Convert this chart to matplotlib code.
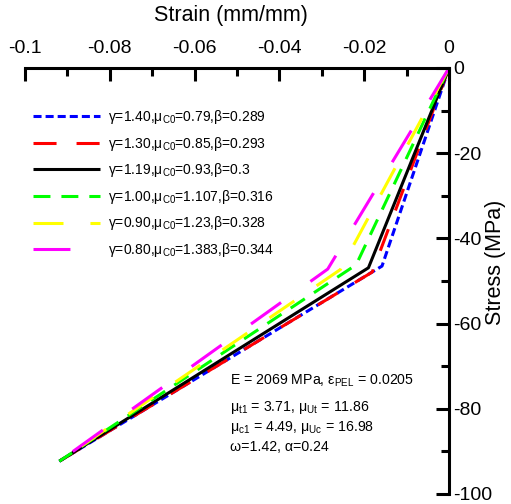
import matplotlib
matplotlib.use("Agg")
import matplotlib.pyplot as plt
from matplotlib.ticker import MultipleLocator, FuncFormatter

plt.rcParams['font.family'] = ['Liberation Sans', 'DejaVu Sans']
plt.rcParams['mathtext.fontset'] = 'custom'
plt.rcParams['mathtext.rm'] = 'Liberation Sans'
plt.rcParams['mathtext.it'] = 'Liberation Sans'
plt.rcParams['axes.unicode_minus'] = False
plt.rcParams['lines.scale_dashes'] = False

# Bilinear compressive stress-strain curves: origin, knee, ultimate point
labels = [
    "γ=1.40,μ$_{\\mathrm{C0}}$=0.79,β=0.289",
    "γ=1.30,μ$_{\\mathrm{C0}}$=0.85,β=0.293",
    "γ=1.19,μ$_{\\mathrm{C0}}$=0.93,β=0.3",
    "γ=1.00,μ$_{\\mathrm{C0}}$=1.107,β=0.316",
    "γ=0.90,μ$_{\\mathrm{C0}}$=1.23,β=0.328",
    "γ=0.80,μ$_{\\mathrm{C0}}$=1.383,β=0.344",
]
strain_g140 = [0.0, -0.0158, -0.0919]
stress_g140 = [0.0, -46.5, -92.3]
strain_g130 = [0.0, -0.0181, -0.0919]
stress_g130 = [0.0, -47.9, -92.3]
strain_g119 = [0.0, -0.0190, -0.0919]
stress_g119 = [0.0, -46.9, -92.3]
strain_g100 = [0.0, -0.0219, -0.0919]
stress_g100 = [0.0, -46.2, -92.3]
strain_g090 = [0.0, -0.0256, -0.0919]
stress_g090 = [0.0, -47.3, -92.3]
strain_g080 = [0.0, -0.0286, -0.0919]
stress_g080 = [0.0, -47.2, -92.3]

strains = [strain_g140, strain_g130, strain_g119, strain_g100, strain_g090, strain_g080]
stresses = [stress_g140, stress_g130, stress_g119, stress_g100, stress_g090, stress_g080]

colors = ['#0000ff', '#ff0000', '#000000', '#00ff00', '#ffff00', '#ff00ff']
styles = [(0, (5.8, 2.9)), (0, (16.6, 14.4)), '-', (0, (12.2, 7.9)),
          (0, (21.6, 19.4)), (0, (26.6, 26.0))]

annotation = [
    "E = 2069 MPa, ε$_{\\mathrm{PEL}}$ = 0.0205",
    "μ$_{\\mathrm{t1}}$ = 3.71, μ$_{\\mathrm{Ut}}$ = 11.86",
    "μ$_{\\mathrm{c1}}$ = 4.49, μ$_{\\mathrm{Uc}}$ = 16.98",
    "ω=1.42, α=0.24",
]


def tick_text(v, pos):
    v = round(v, 6)
    if v == 0:
        return "0"
    return f"{v:g}"


fig = plt.figure(figsize=(5.11, 5.04), dpi=100)
ax = fig.add_axes([25 / 511, 1 - 494 / 504, 424 / 511, 426 / 504])

for x, y, c, ls, lab in zip(strains, stresses, colors, styles, labels):
    ax.plot(x, y, color=c, linestyle=ls, linewidth=2.2, label=lab,
            dash_capstyle='butt', solid_capstyle='butt', clip_on=False)

ax.set_xlim(-0.1, 0.0)
ax.set_ylim(-100, 0)

for side in ('left', 'bottom'):
    ax.spines[side].set_visible(False)
for side in ('top', 'right'):
    ax.spines[side].set_linewidth(2.2)

ax.xaxis.tick_top()
ax.yaxis.tick_right()
ax.xaxis.set_major_locator(MultipleLocator(0.02))
ax.xaxis.set_minor_locator(MultipleLocator(0.01))
ax.yaxis.set_major_locator(MultipleLocator(20))
ax.yaxis.set_minor_locator(MultipleLocator(10))
ax.xaxis.set_major_formatter(FuncFormatter(tick_text))
ax.yaxis.set_major_formatter(FuncFormatter(tick_text))
ax.tick_params(axis='both', which='both', direction='in', width=2.2)
ax.tick_params(axis='both', which='major', length=9.5, labelsize=14)
ax.tick_params(axis='both', which='minor', length=6)
ax.tick_params(axis='x', which='major', pad=8)
ax.tick_params(axis='y', which='major', pad=3)

ax.xaxis.set_label_position('top')
ax.set_xlabel("Strain (mm/mm)", fontsize=15.5)
ax.xaxis.label.set_verticalalignment('center')
ax.xaxis.set_label_coords(0.486, (494 - 15.5) / 426)

ax.yaxis.set_label_position('right')
ax.set_ylabel("Stress (MPa)", fontsize=15.5)
ax.yaxis.label.set_verticalalignment('center')
ax.yaxis.label.set_horizontalalignment('center')
ax.yaxis.set_label_coords((496 - 25) / 424, (494 - 262) / 426)

ax.legend(loc='upper left', bbox_to_anchor=(0.019, 0.906), frameon=False,
          fontsize=10, handlelength=4.8, handletextpad=0.58,
          labelspacing=0.62, borderpad=0, borderaxespad=0)

baselines = [385, 411, 431, 451]
for yb, line in zip(baselines, annotation):
    ax.text(0.4835, (494 - yb) / 426, line, transform=ax.transAxes,
            fontsize=10.2, ha='left', va='baseline')

fig.savefig("out.png", dpi=100)
